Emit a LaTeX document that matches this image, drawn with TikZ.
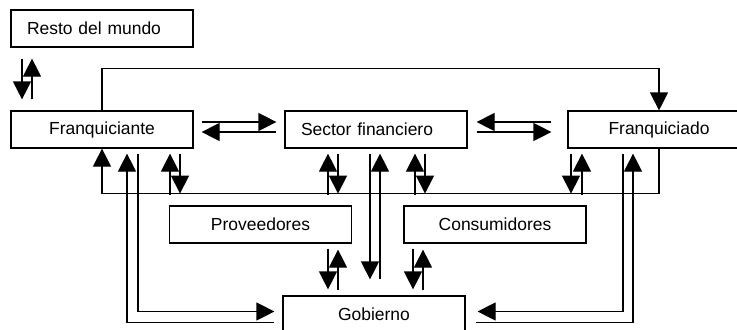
\documentclass[tikz,border=0pt]{standalone}
\usepackage{fontspec}
\setmainfont{Liberation Sans}
\usepackage{tikz}
\usetikzlibrary{arrows.meta,calc}

\begin{document}
\begin{tikzpicture}[x=0.75pt,y=-0.75pt,line width=0.9pt,
        >={Triangle[length=13.5pt,width=13.5pt]},
        box/.style={rectangle,draw,minimum width=136.5pt,minimum height=27.75pt,inner sep=0pt,
            font=\fontsize{13.1pt}{15pt}\selectfont},
        boxl/.style={box,inner xsep=12pt,text width=112.5pt,align=left}]
        \clip (0,0) rectangle (737,329);
        % 方框
        \node[boxl] (res) at (102,28.5) {Resto del mundo};
        \node[box] (fte) at (102,129.5) {Franquiciante};
        \node[boxl] (sec) at (376,129.5) {Sector financiero};
        \node[box] (fdo) at (659,129.5) {Franquiciado};
        \node[box] (prov) at (260.5,224.5) {Proveedores};
        \node[box] (cons) at (495,224.5) {Consumidores};
        \node[box] (gob) at (374,314.5) {Gobierno};

        % 上方的连线
        \draw[->] ($(res.south)+(-80,11)$) -- ($(fte.north)+(-80,-11)$);
        \draw[->] ($(fte.north)+(-70,-11)$) -- ($(res.south)+(-70,11)$);
        \draw[->] (fte.north) -- ++(0,-42) -| (fdo.north);

        % 水平的连线
        \draw[->] ($(fte.east)+(8,-7.5)$) -- ($(sec.west)+(-8,-7.5)$);
        \draw[->] ($(sec.west)+(-8,2.5)$) -- ($(fte.east)+(8,2.5)$);
        \draw[->] ($(fdo.west)+(-16,-7.5)$) -- ($(sec.east)+(9,-7.5)$);
        \draw[->] ($(sec.east)+(9,2.5)$) -- ($(fdo.west)+(-16,2.5)$);

        % 下方的总线
        \draw[->] (fdo.south) -- ++(0,45) -| (fte.south);
        \draw[->] ($(fte.south)+(68,46)$) -- ($(fte.south)+(68,5)$);
        \draw[->] ($(fte.south)+(78,5)$) -- ($(fte.south)+(78,45)$);
        \draw[->] ($(sec.south)+(-48,46)$) -- ($(sec.south)+(-48,5)$);
        \draw[->] ($(sec.south)+(-38,5)$) -- ($(sec.south)+(-38,45)$);
        \draw[->] ($(sec.south)+(39,46)$) -- ($(sec.south)+(39,5)$);
        \draw[->] ($(sec.south)+(49,5)$) -- ($(sec.south)+(49,45)$);
        \draw[->] ($(fdo.south)+(-88,5)$) -- ($(fdo.south)+(-88,45)$);
        \draw[->] ($(fdo.south)+(-77,46)$) -- ($(fdo.south)+(-77,5)$);

        % 连接到政府
        \draw[->] ($(sec.south)+(-6,5)$) -- ($(gob.north)+(-4,-16)$);
        \draw[->] ($(gob.north)+(6,-16)$) -- ($(sec.south)+(4,5)$);
        \draw[->] ($(prov.south)+(67.5,5)$) -- ($(gob.north)+(-46,-6)$);
        \draw[->] ($(gob.north)+(-36,-5)$) -- ($(prov.south)+(77.5,6)$);
        \draw[->] ($(cons.south)+(-82,5)$) -- ($(gob.north)+(39,-6)$);
        \draw[->] ($(gob.north)+(49,-5)$) -- ($(cons.south)+(-72,6)$);
        \draw[->] ($(fte.south)+(36,5)$) |- ($(gob.west)+(-8,-3)$);
        \draw[->] ($(gob.west)+(-8,8)$) -| ($(fte.south)+(25,5)$);
        \draw[->] ($(fdo.south)+(-36,5)$) |- ($(gob.east)+(12,-3)$);
        \draw[->] ($(gob.east)+(10,8)$) -| ($(fdo.south)+(-26,5)$);
    \end{tikzpicture}
\end{document}
